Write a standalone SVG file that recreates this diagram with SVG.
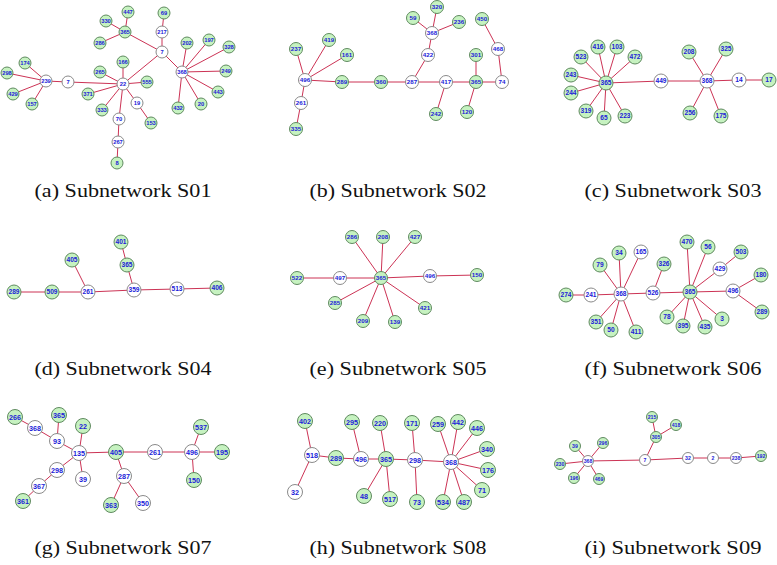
<svg xmlns="http://www.w3.org/2000/svg" width="777" height="565" viewBox="0 0 777 565">
<style>
.edges line{stroke:#cc3355;stroke-width:1}
circle.g{fill:#c6f2c0;stroke:#5f8a5f;stroke-width:1}
circle.w{fill:#ffffff;stroke:#8a8a8a;stroke-width:1}
.node text{font-family:"Liberation Sans",Arial,sans-serif;font-weight:bold;fill:#2020d8;text-anchor:middle}
.cap{font-family:"Liberation Serif","Times New Roman",serif;font-size:18px;fill:#111;text-anchor:middle}
#pa .node text{font-size:5.8px}
#pb .node text,#pe .node text{font-size:6.2px}
#pc .node text,#pd .node text,#pf .node text{font-size:6.6px}
#pg .node text,#ph .node text{font-size:7.2px}
#pi .node text{font-size:5.2px}
</style>
<rect width="777" height="565" fill="#ffffff"/>

<!-- (a) -->
<g id="pa">
<g id="pa-edges" class="edges">
<line x1="125" y1="32" x2="128" y2="12"/><line x1="125" y1="32" x2="106" y2="21"/><line x1="125" y1="32" x2="100" y2="43"/><line x1="125" y1="32" x2="162" y2="52"/>
<line x1="162" y1="32" x2="164" y2="13"/><line x1="162" y1="32" x2="162" y2="52"/>
<line x1="162" y1="52" x2="182" y2="72"/><line x1="162" y1="52" x2="123" y2="84"/>
<line x1="182" y1="72" x2="187" y2="43"/><line x1="182" y1="72" x2="209" y2="40"/><line x1="182" y1="72" x2="229" y2="47"/><line x1="182" y1="72" x2="226" y2="71"/><line x1="182" y1="72" x2="218" y2="92"/><line x1="182" y1="72" x2="201" y2="104"/><line x1="182" y1="72" x2="178" y2="108"/>
<line x1="46" y1="81" x2="25" y2="63"/><line x1="46" y1="81" x2="7" y2="73"/><line x1="46" y1="81" x2="13" y2="94"/><line x1="46" y1="81" x2="32" y2="104"/><line x1="46" y1="81" x2="68" y2="82"/>
<line x1="68" y1="82" x2="123" y2="84"/>
<line x1="123" y1="84" x2="123" y2="62"/><line x1="123" y1="84" x2="100" y2="72"/><line x1="123" y1="84" x2="147" y2="82"/><line x1="123" y1="84" x2="88" y2="94"/><line x1="123" y1="84" x2="102" y2="110"/><line x1="123" y1="84" x2="137" y2="103"/><line x1="123" y1="84" x2="119" y2="119"/>
<line x1="137" y1="103" x2="151" y2="123"/><line x1="119" y1="119" x2="118" y2="142"/><line x1="118" y1="142" x2="117" y2="163"/>
</g>
<g id="a-447" class="node"><circle class="g" cx="128" cy="12" r="6"/><text x="128" y="12" dy="0.35em">447</text></g>
<g id="a-330" class="node"><circle class="g" cx="106" cy="21" r="6"/><text x="106" y="21" dy="0.35em">330</text></g>
<g id="a-365" class="node"><circle class="g" cx="125" cy="32" r="6"/><text x="125" y="32" dy="0.35em">365</text></g>
<g id="a-286" class="node"><circle class="g" cx="100" cy="43" r="6"/><text x="100" y="43" dy="0.35em">286</text></g>
<g id="a-69" class="node"><circle class="g" cx="164" cy="13" r="6"/><text x="164" y="13" dy="0.35em">69</text></g>
<g id="a-217" class="node"><circle class="w" cx="162" cy="32" r="6"/><text x="162" y="32" dy="0.35em">217</text></g>
<g id="a-7top" class="node"><circle class="w" cx="162" cy="52" r="6"/><text x="162" y="52" dy="0.35em">7</text></g>
<g id="a-202" class="node"><circle class="g" cx="187" cy="43" r="6"/><text x="187" y="43" dy="0.35em">202</text></g>
<g id="a-197" class="node"><circle class="g" cx="209" cy="40" r="6"/><text x="209" y="40" dy="0.35em">197</text></g>
<g id="a-328" class="node"><circle class="g" cx="229" cy="47" r="6"/><text x="229" y="47" dy="0.35em">328</text></g>
<g id="a-368" class="node"><circle class="w" cx="182" cy="72" r="6"/><text x="182" y="72" dy="0.35em">368</text></g>
<g id="a-249" class="node"><circle class="g" cx="226" cy="71" r="6"/><text x="226" y="71" dy="0.35em">249</text></g>
<g id="a-443" class="node"><circle class="g" cx="218" cy="92" r="6"/><text x="218" y="92" dy="0.35em">443</text></g>
<g id="a-20" class="node"><circle class="g" cx="201" cy="104" r="6"/><text x="201" y="104" dy="0.35em">20</text></g>
<g id="a-432" class="node"><circle class="g" cx="178" cy="108" r="6"/><text x="178" y="108" dy="0.35em">432</text></g>
<g id="a-174" class="node"><circle class="g" cx="25" cy="63" r="6"/><text x="25" y="63" dy="0.35em">174</text></g>
<g id="a-298" class="node"><circle class="g" cx="7" cy="73" r="6"/><text x="7" y="73" dy="0.35em">298</text></g>
<g id="a-239" class="node"><circle class="w" cx="46" cy="81" r="6"/><text x="46" y="81" dy="0.35em">239</text></g>
<g id="a-7left" class="node"><circle class="w" cx="68" cy="82" r="6"/><text x="68" y="82" dy="0.35em">7</text></g>
<g id="a-429" class="node"><circle class="g" cx="13" cy="94" r="6"/><text x="13" y="94" dy="0.35em">429</text></g>
<g id="a-157" class="node"><circle class="g" cx="32" cy="104" r="6"/><text x="32" y="104" dy="0.35em">157</text></g>
<g id="a-166" class="node"><circle class="g" cx="123" cy="62" r="6"/><text x="123" y="62" dy="0.35em">166</text></g>
<g id="a-265" class="node"><circle class="g" cx="100" cy="72" r="6"/><text x="100" y="72" dy="0.35em">265</text></g>
<g id="a-22" class="node"><circle class="w" cx="123" cy="84" r="6"/><text x="123" y="84" dy="0.35em">22</text></g>
<g id="a-555" class="node"><circle class="g" cx="147" cy="82" r="6"/><text x="147" y="82" dy="0.35em">555</text></g>
<g id="a-371" class="node"><circle class="g" cx="88" cy="94" r="6"/><text x="88" y="94" dy="0.35em">371</text></g>
<g id="a-333" class="node"><circle class="g" cx="102" cy="110" r="6"/><text x="102" y="110" dy="0.35em">333</text></g>
<g id="a-19" class="node"><circle class="w" cx="137" cy="103" r="6"/><text x="137" y="103" dy="0.35em">19</text></g>
<g id="a-153" class="node"><circle class="g" cx="151" cy="123" r="6"/><text x="151" y="123" dy="0.35em">153</text></g>
<g id="a-70" class="node"><circle class="w" cx="119" cy="119" r="6"/><text x="119" y="119" dy="0.35em">70</text></g>
<g id="a-267" class="node"><circle class="w" cx="118" cy="142" r="6"/><text x="118" y="142" dy="0.35em">267</text></g>
<g id="a-8" class="node"><circle class="g" cx="117" cy="163" r="6"/><text x="117" y="163" dy="0.35em">8</text></g>
<text class="cap" x="123" y="197" textLength="177" lengthAdjust="spacingAndGlyphs">(a) Subnetwork S01</text>
</g>

<!-- (b) -->
<g id="pb">
<g id="pb-edges" class="edges">
<line x1="305" y1="80" x2="296" y2="49"/><line x1="305" y1="80" x2="329" y2="40"/><line x1="305" y1="80" x2="347" y2="55"/><line x1="305" y1="80" x2="342" y2="82"/><line x1="305" y1="80" x2="301" y2="103"/>
<line x1="301" y1="103" x2="296" y2="129"/><line x1="342" y1="82" x2="381" y2="82"/><line x1="381" y1="82" x2="412" y2="82"/>
<line x1="412" y1="82" x2="428" y2="55"/><line x1="428" y1="55" x2="432" y2="33"/>
<line x1="432" y1="33" x2="413" y2="18"/><line x1="432" y1="33" x2="437" y2="7"/><line x1="432" y1="33" x2="459" y2="22"/>
<line x1="412" y1="82" x2="446" y2="82"/><line x1="446" y1="82" x2="436" y2="114"/><line x1="446" y1="82" x2="476" y2="82"/>
<line x1="476" y1="82" x2="476" y2="55"/><line x1="476" y1="82" x2="467" y2="112"/><line x1="476" y1="82" x2="502" y2="82"/>
<line x1="502" y1="82" x2="498" y2="49"/><line x1="498" y1="49" x2="482" y2="19"/>
</g>
<g id="b-320" class="node"><circle class="g" cx="437" cy="7" r="6.5"/><text x="437" y="7" dy="0.35em">320</text></g>
<g id="b-59" class="node"><circle class="g" cx="413" cy="18" r="6.5"/><text x="413" y="18" dy="0.35em">59</text></g>
<g id="b-236" class="node"><circle class="g" cx="459" cy="22" r="6.5"/><text x="459" y="22" dy="0.35em">236</text></g>
<g id="b-368" class="node"><circle class="w" cx="432" cy="33" r="6.5"/><text x="432" y="33" dy="0.35em">368</text></g>
<g id="b-422" class="node"><circle class="w" cx="428" cy="55" r="6.5"/><text x="428" y="55" dy="0.35em">422</text></g>
<g id="b-450" class="node"><circle class="g" cx="482" cy="19" r="6.5"/><text x="482" y="19" dy="0.35em">450</text></g>
<g id="b-468" class="node"><circle class="w" cx="498" cy="49" r="6.5"/><text x="498" y="49" dy="0.35em">468</text></g>
<g id="b-237" class="node"><circle class="g" cx="296" cy="49" r="6.5"/><text x="296" y="49" dy="0.35em">237</text></g>
<g id="b-419" class="node"><circle class="g" cx="329" cy="40" r="6.5"/><text x="329" y="40" dy="0.35em">419</text></g>
<g id="b-161" class="node"><circle class="g" cx="347" cy="55" r="6.5"/><text x="347" y="55" dy="0.35em">161</text></g>
<g id="b-496" class="node"><circle class="w" cx="305" cy="80" r="6.5"/><text x="305" y="80" dy="0.35em">496</text></g>
<g id="b-289" class="node"><circle class="g" cx="342" cy="82" r="6.5"/><text x="342" y="82" dy="0.35em">289</text></g>
<g id="b-360" class="node"><circle class="g" cx="381" cy="82" r="6.5"/><text x="381" y="82" dy="0.35em">360</text></g>
<g id="b-287" class="node"><circle class="w" cx="412" cy="82" r="6.5"/><text x="412" y="82" dy="0.35em">287</text></g>
<g id="b-417" class="node"><circle class="w" cx="446" cy="82" r="6.5"/><text x="446" y="82" dy="0.35em">417</text></g>
<g id="b-301" class="node"><circle class="g" cx="476" cy="55" r="6.5"/><text x="476" y="55" dy="0.35em">301</text></g>
<g id="b-365" class="node"><circle class="g" cx="476" cy="82" r="6.5"/><text x="476" y="82" dy="0.35em">365</text></g>
<g id="b-74" class="node"><circle class="w" cx="502" cy="82" r="6.5"/><text x="502" y="82" dy="0.35em">74</text></g>
<g id="b-261" class="node"><circle class="w" cx="301" cy="103" r="6.5"/><text x="301" y="103" dy="0.35em">261</text></g>
<g id="b-335" class="node"><circle class="g" cx="296" cy="129" r="6.5"/><text x="296" y="129" dy="0.35em">335</text></g>
<g id="b-242" class="node"><circle class="g" cx="436" cy="114" r="6.5"/><text x="436" y="114" dy="0.35em">242</text></g>
<g id="b-120" class="node"><circle class="g" cx="467" cy="112" r="6.5"/><text x="467" y="112" dy="0.35em">120</text></g>
<text class="cap" x="398" y="197" textLength="177" lengthAdjust="spacingAndGlyphs">(b) Subnetwork S02</text>
</g>

<!-- (c) -->
<g id="pc">
<g id="pc-edges" class="edges">
<line x1="606" y1="83" x2="598" y2="47"/><line x1="606" y1="83" x2="617" y2="47"/><line x1="606" y1="83" x2="581" y2="57"/><line x1="606" y1="83" x2="635" y2="57"/><line x1="606" y1="83" x2="571" y2="75"/><line x1="606" y1="83" x2="571" y2="93"/><line x1="606" y1="83" x2="586" y2="111"/><line x1="606" y1="83" x2="604" y2="118"/><line x1="606" y1="83" x2="625" y2="116"/><line x1="606" y1="83" x2="661" y2="81"/>
<line x1="661" y1="81" x2="707" y2="81"/>
<line x1="707" y1="81" x2="689" y2="52"/><line x1="707" y1="81" x2="726" y2="49"/><line x1="707" y1="81" x2="739" y2="80"/><line x1="707" y1="81" x2="690" y2="113"/><line x1="707" y1="81" x2="721" y2="116"/>
<line x1="739" y1="80" x2="769" y2="80"/>
</g>
<g id="c-416" class="node"><circle class="g" cx="598" cy="47" r="7"/><text x="598" y="47" dy="0.35em">416</text></g>
<g id="c-103" class="node"><circle class="g" cx="617" cy="47" r="7"/><text x="617" y="47" dy="0.35em">103</text></g>
<g id="c-523" class="node"><circle class="g" cx="581" cy="57" r="7"/><text x="581" y="57" dy="0.35em">523</text></g>
<g id="c-472" class="node"><circle class="g" cx="635" cy="57" r="7"/><text x="635" y="57" dy="0.35em">472</text></g>
<g id="c-243" class="node"><circle class="g" cx="571" cy="75" r="7"/><text x="571" y="75" dy="0.35em">243</text></g>
<g id="c-365" class="node"><circle class="g" cx="606" cy="83" r="7"/><text x="606" y="83" dy="0.35em">365</text></g>
<g id="c-244" class="node"><circle class="g" cx="571" cy="93" r="7"/><text x="571" y="93" dy="0.35em">244</text></g>
<g id="c-319" class="node"><circle class="g" cx="586" cy="111" r="7"/><text x="586" y="111" dy="0.35em">319</text></g>
<g id="c-65" class="node"><circle class="g" cx="604" cy="118" r="7"/><text x="604" y="118" dy="0.35em">65</text></g>
<g id="c-223" class="node"><circle class="g" cx="625" cy="116" r="7"/><text x="625" y="116" dy="0.35em">223</text></g>
<g id="c-449" class="node"><circle class="w" cx="661" cy="81" r="7"/><text x="661" y="81" dy="0.35em">449</text></g>
<g id="c-208" class="node"><circle class="g" cx="689" cy="52" r="7"/><text x="689" y="52" dy="0.35em">208</text></g>
<g id="c-325" class="node"><circle class="g" cx="726" cy="49" r="7"/><text x="726" y="49" dy="0.35em">325</text></g>
<g id="c-368" class="node"><circle class="w" cx="707" cy="81" r="7"/><text x="707" y="81" dy="0.35em">368</text></g>
<g id="c-14" class="node"><circle class="w" cx="739" cy="80" r="7"/><text x="739" y="80" dy="0.35em">14</text></g>
<g id="c-17" class="node"><circle class="g" cx="769" cy="80" r="7"/><text x="769" y="80" dy="0.35em">17</text></g>
<g id="c-256" class="node"><circle class="g" cx="690" cy="113" r="7"/><text x="690" y="113" dy="0.35em">256</text></g>
<g id="c-175" class="node"><circle class="g" cx="721" cy="116" r="7"/><text x="721" y="116" dy="0.35em">175</text></g>
<text class="cap" x="673" y="197" textLength="177" lengthAdjust="spacingAndGlyphs">(c) Subnetwork S03</text>
</g>

<!-- (d) -->
<g id="pd">
<g id="pd-edges" class="edges">
<line x1="14" y1="292" x2="52" y2="292"/><line x1="52" y1="292" x2="88" y2="292"/><line x1="88" y1="292" x2="72" y2="260"/><line x1="88" y1="292" x2="134" y2="290"/>
<line x1="134" y1="290" x2="127" y2="265"/><line x1="127" y1="265" x2="121" y2="242"/><line x1="134" y1="290" x2="177" y2="289"/><line x1="177" y1="289" x2="217" y2="288"/>
</g>
<g id="d-401" class="node"><circle class="g" cx="121" cy="242" r="7"/><text x="121" y="242" dy="0.35em">401</text></g>
<g id="d-405" class="node"><circle class="g" cx="72" cy="260" r="7"/><text x="72" y="260" dy="0.35em">405</text></g>
<g id="d-365" class="node"><circle class="g" cx="127" cy="265" r="7"/><text x="127" y="265" dy="0.35em">365</text></g>
<g id="d-289" class="node"><circle class="g" cx="14" cy="292" r="7"/><text x="14" y="292" dy="0.35em">289</text></g>
<g id="d-509" class="node"><circle class="g" cx="52" cy="292" r="7"/><text x="52" y="292" dy="0.35em">509</text></g>
<g id="d-261" class="node"><circle class="w" cx="88" cy="292" r="7"/><text x="88" y="292" dy="0.35em">261</text></g>
<g id="d-359" class="node"><circle class="w" cx="134" cy="290" r="7"/><text x="134" y="290" dy="0.35em">359</text></g>
<g id="d-513" class="node"><circle class="w" cx="177" cy="289" r="7"/><text x="177" y="289" dy="0.35em">513</text></g>
<g id="d-406" class="node"><circle class="g" cx="217" cy="288" r="7"/><text x="217" y="288" dy="0.35em">406</text></g>
<text class="cap" x="123" y="375" textLength="177" lengthAdjust="spacingAndGlyphs">(d) Subnetwork S04</text>
</g>

<!-- (e) -->
<g id="pe">
<g id="pe-edges" class="edges">
<line x1="381" y1="278" x2="352" y2="237"/><line x1="381" y1="278" x2="383" y2="237"/><line x1="381" y1="278" x2="415" y2="237"/><line x1="381" y1="278" x2="340" y2="278"/><line x1="381" y1="278" x2="430" y2="276"/><line x1="381" y1="278" x2="335" y2="303"/><line x1="381" y1="278" x2="363" y2="321"/><line x1="381" y1="278" x2="395" y2="322"/><line x1="381" y1="278" x2="425" y2="308"/>
<line x1="340" y1="278" x2="297" y2="278"/><line x1="430" y1="276" x2="477" y2="275"/>
</g>
<g id="e-286" class="node"><circle class="g" cx="352" cy="237" r="6.5"/><text x="352" y="237" dy="0.35em">286</text></g>
<g id="e-208" class="node"><circle class="g" cx="383" cy="237" r="6.5"/><text x="383" y="237" dy="0.35em">208</text></g>
<g id="e-427" class="node"><circle class="g" cx="415" cy="237" r="6.5"/><text x="415" y="237" dy="0.35em">427</text></g>
<g id="e-522" class="node"><circle class="g" cx="297" cy="278" r="6.5"/><text x="297" y="278" dy="0.35em">522</text></g>
<g id="e-497" class="node"><circle class="w" cx="340" cy="278" r="6.5"/><text x="340" y="278" dy="0.35em">497</text></g>
<g id="e-365" class="node"><circle class="g" cx="381" cy="278" r="6.5"/><text x="381" y="278" dy="0.35em">365</text></g>
<g id="e-496" class="node"><circle class="w" cx="430" cy="276" r="6.5"/><text x="430" y="276" dy="0.35em">496</text></g>
<g id="e-150" class="node"><circle class="g" cx="477" cy="275" r="6.5"/><text x="477" y="275" dy="0.35em">150</text></g>
<g id="e-285" class="node"><circle class="g" cx="335" cy="303" r="6.5"/><text x="335" y="303" dy="0.35em">285</text></g>
<g id="e-209" class="node"><circle class="g" cx="363" cy="321" r="6.5"/><text x="363" y="321" dy="0.35em">209</text></g>
<g id="e-139" class="node"><circle class="g" cx="395" cy="322" r="6.5"/><text x="395" y="322" dy="0.35em">139</text></g>
<g id="e-421" class="node"><circle class="g" cx="425" cy="308" r="6.5"/><text x="425" y="308" dy="0.35em">421</text></g>
<text class="cap" x="398" y="375" textLength="177" lengthAdjust="spacingAndGlyphs">(e) Subnetwork S05</text>
</g>

<!-- (f) -->
<g id="pf">
<g id="pf-edges" class="edges">
<line x1="591" y1="295" x2="566" y2="295"/><line x1="591" y1="295" x2="621" y2="294"/>
<line x1="621" y1="294" x2="600" y2="265"/><line x1="621" y1="294" x2="619" y2="253"/><line x1="621" y1="294" x2="641" y2="252"/><line x1="621" y1="294" x2="596" y2="322"/><line x1="621" y1="294" x2="611" y2="330"/><line x1="621" y1="294" x2="636" y2="332"/><line x1="621" y1="294" x2="653" y2="293"/>
<line x1="653" y1="293" x2="664" y2="264"/><line x1="653" y1="293" x2="690" y2="292"/>
<line x1="690" y1="292" x2="687" y2="242"/><line x1="690" y1="292" x2="708" y2="247"/><line x1="690" y1="292" x2="720" y2="269"/><line x1="690" y1="292" x2="733" y2="291"/><line x1="690" y1="292" x2="667" y2="317"/><line x1="690" y1="292" x2="683" y2="326"/><line x1="690" y1="292" x2="705" y2="327"/><line x1="690" y1="292" x2="722" y2="319"/>
<line x1="720" y1="269" x2="741" y2="252"/><line x1="733" y1="291" x2="761" y2="275"/><line x1="733" y1="291" x2="762" y2="312"/>
</g>
<g id="f-470" class="node"><circle class="g" cx="687" cy="242" r="7"/><text x="687" y="242" dy="0.35em">470</text></g>
<g id="f-56" class="node"><circle class="g" cx="708" cy="247" r="7"/><text x="708" y="247" dy="0.35em">56</text></g>
<g id="f-34" class="node"><circle class="g" cx="619" cy="253" r="7"/><text x="619" y="253" dy="0.35em">34</text></g>
<g id="f-165" class="node"><circle class="w" cx="641" cy="252" r="7"/><text x="641" y="252" dy="0.35em">165</text></g>
<g id="f-503" class="node"><circle class="g" cx="741" cy="252" r="7"/><text x="741" y="252" dy="0.35em">503</text></g>
<g id="f-79" class="node"><circle class="g" cx="600" cy="265" r="7"/><text x="600" y="265" dy="0.35em">79</text></g>
<g id="f-326" class="node"><circle class="g" cx="664" cy="264" r="7"/><text x="664" y="264" dy="0.35em">326</text></g>
<g id="f-429" class="node"><circle class="w" cx="720" cy="269" r="7"/><text x="720" y="269" dy="0.35em">429</text></g>
<g id="f-180" class="node"><circle class="g" cx="761" cy="275" r="7"/><text x="761" y="275" dy="0.35em">180</text></g>
<g id="f-274" class="node"><circle class="g" cx="566" cy="295" r="7"/><text x="566" y="295" dy="0.35em">274</text></g>
<g id="f-241" class="node"><circle class="w" cx="591" cy="295" r="7"/><text x="591" y="295" dy="0.35em">241</text></g>
<g id="f-368" class="node"><circle class="w" cx="621" cy="294" r="7"/><text x="621" y="294" dy="0.35em">368</text></g>
<g id="f-526" class="node"><circle class="w" cx="653" cy="293" r="7"/><text x="653" y="293" dy="0.35em">526</text></g>
<g id="f-365" class="node"><circle class="g" cx="690" cy="292" r="7"/><text x="690" y="292" dy="0.35em">365</text></g>
<g id="f-496" class="node"><circle class="w" cx="733" cy="291" r="7"/><text x="733" y="291" dy="0.35em">496</text></g>
<g id="f-289" class="node"><circle class="g" cx="762" cy="312" r="7"/><text x="762" y="312" dy="0.35em">289</text></g>
<g id="f-78" class="node"><circle class="g" cx="667" cy="317" r="7"/><text x="667" y="317" dy="0.35em">78</text></g>
<g id="f-3" class="node"><circle class="g" cx="722" cy="319" r="7"/><text x="722" y="319" dy="0.35em">3</text></g>
<g id="f-351" class="node"><circle class="g" cx="596" cy="322" r="7"/><text x="596" y="322" dy="0.35em">351</text></g>
<g id="f-395" class="node"><circle class="g" cx="683" cy="326" r="7"/><text x="683" y="326" dy="0.35em">395</text></g>
<g id="f-435" class="node"><circle class="g" cx="705" cy="327" r="7"/><text x="705" y="327" dy="0.35em">435</text></g>
<g id="f-50" class="node"><circle class="g" cx="611" cy="330" r="7"/><text x="611" y="330" dy="0.35em">50</text></g>
<g id="f-411" class="node"><circle class="g" cx="636" cy="332" r="7"/><text x="636" y="332" dy="0.35em">411</text></g>
<text class="cap" x="673" y="375" textLength="177" lengthAdjust="spacingAndGlyphs">(f) Subnetwork S06</text>
</g>

<!-- (g) -->
<g id="pg">
<g id="pg-edges" class="edges">
<line x1="15" y1="417" x2="35" y2="428"/><line x1="35" y1="428" x2="57" y2="441"/><line x1="57" y1="441" x2="59" y2="415"/><line x1="57" y1="441" x2="79" y2="453"/>
<line x1="79" y1="453" x2="83" y2="426"/><line x1="79" y1="453" x2="116" y2="452"/><line x1="79" y1="453" x2="57" y2="470"/><line x1="79" y1="453" x2="83" y2="479"/>
<line x1="57" y1="470" x2="39" y2="486"/><line x1="39" y1="486" x2="23" y2="501"/>
<line x1="116" y1="452" x2="155" y2="452"/><line x1="116" y1="452" x2="124" y2="476"/><line x1="124" y1="476" x2="111" y2="505"/><line x1="124" y1="476" x2="143" y2="503"/>
<line x1="155" y1="452" x2="192" y2="452"/><line x1="192" y1="452" x2="201" y2="427"/><line x1="192" y1="452" x2="222" y2="452"/><line x1="192" y1="452" x2="194" y2="480"/>
</g>
<g id="g-266" class="node"><circle class="g" cx="15" cy="417" r="7.5"/><text x="15" y="417" dy="0.35em">266</text></g>
<g id="g-365" class="node"><circle class="g" cx="59" cy="415" r="7.5"/><text x="59" y="415" dy="0.35em">365</text></g>
<g id="g-368" class="node"><circle class="w" cx="35" cy="428" r="7.5"/><text x="35" y="428" dy="0.35em">368</text></g>
<g id="g-22" class="node"><circle class="g" cx="83" cy="426" r="7.5"/><text x="83" y="426" dy="0.35em">22</text></g>
<g id="g-93" class="node"><circle class="w" cx="57" cy="441" r="7.5"/><text x="57" y="441" dy="0.35em">93</text></g>
<g id="g-537" class="node"><circle class="g" cx="201" cy="427" r="7.5"/><text x="201" y="427" dy="0.35em">537</text></g>
<g id="g-135" class="node"><circle class="w" cx="79" cy="453" r="7.5"/><text x="79" y="453" dy="0.35em">135</text></g>
<g id="g-405" class="node"><circle class="g" cx="116" cy="452" r="7.5"/><text x="116" y="452" dy="0.35em">405</text></g>
<g id="g-261" class="node"><circle class="w" cx="155" cy="452" r="7.5"/><text x="155" y="452" dy="0.35em">261</text></g>
<g id="g-496" class="node"><circle class="w" cx="192" cy="452" r="7.5"/><text x="192" y="452" dy="0.35em">496</text></g>
<g id="g-195" class="node"><circle class="g" cx="222" cy="452" r="7.5"/><text x="222" y="452" dy="0.35em">195</text></g>
<g id="g-298" class="node"><circle class="w" cx="57" cy="470" r="7.5"/><text x="57" y="470" dy="0.35em">298</text></g>
<g id="g-39" class="node"><circle class="w" cx="83" cy="479" r="7.5"/><text x="83" y="479" dy="0.35em">39</text></g>
<g id="g-287" class="node"><circle class="w" cx="124" cy="476" r="7.5"/><text x="124" y="476" dy="0.35em">287</text></g>
<g id="g-150" class="node"><circle class="g" cx="194" cy="480" r="7.5"/><text x="194" y="480" dy="0.35em">150</text></g>
<g id="g-367" class="node"><circle class="w" cx="39" cy="486" r="7.5"/><text x="39" y="486" dy="0.35em">367</text></g>
<g id="g-361" class="node"><circle class="g" cx="23" cy="501" r="7.5"/><text x="23" y="501" dy="0.35em">361</text></g>
<g id="g-363" class="node"><circle class="g" cx="111" cy="505" r="7.5"/><text x="111" y="505" dy="0.35em">363</text></g>
<g id="g-350" class="node"><circle class="w" cx="143" cy="503" r="7.5"/><text x="143" y="503" dy="0.35em">350</text></g>
<text class="cap" x="123" y="554" textLength="177" lengthAdjust="spacingAndGlyphs">(g) Subnetwork S07</text>
</g>

<!-- (h) -->
<g id="ph">
<g id="ph-edges" class="edges">
<line x1="312" y1="455" x2="305" y2="421"/><line x1="312" y1="455" x2="295" y2="492"/><line x1="312" y1="455" x2="336" y2="458"/><line x1="336" y1="458" x2="361" y2="459"/>
<line x1="361" y1="459" x2="352" y2="422"/><line x1="361" y1="459" x2="386" y2="459"/>
<line x1="386" y1="459" x2="380" y2="423"/><line x1="386" y1="459" x2="364" y2="496"/><line x1="386" y1="459" x2="390" y2="499"/><line x1="386" y1="459" x2="415" y2="460"/>
<line x1="415" y1="460" x2="412" y2="423"/><line x1="415" y1="460" x2="417" y2="502"/><line x1="415" y1="460" x2="451" y2="462"/>
<line x1="451" y1="462" x2="438" y2="424"/><line x1="451" y1="462" x2="458" y2="422"/><line x1="451" y1="462" x2="477" y2="428"/><line x1="451" y1="462" x2="487" y2="449"/><line x1="451" y1="462" x2="488" y2="470"/><line x1="451" y1="462" x2="482" y2="490"/><line x1="451" y1="462" x2="464" y2="502"/><line x1="451" y1="462" x2="443" y2="502"/>
</g>
<g id="h-402" class="node"><circle class="g" cx="305" cy="421" r="7.5"/><text x="305" y="421" dy="0.35em">402</text></g>
<g id="h-295" class="node"><circle class="g" cx="352" cy="422" r="7.5"/><text x="352" y="422" dy="0.35em">295</text></g>
<g id="h-220" class="node"><circle class="g" cx="380" cy="423" r="7.5"/><text x="380" y="423" dy="0.35em">220</text></g>
<g id="h-171" class="node"><circle class="g" cx="412" cy="423" r="7.5"/><text x="412" y="423" dy="0.35em">171</text></g>
<g id="h-259" class="node"><circle class="g" cx="438" cy="424" r="7.5"/><text x="438" y="424" dy="0.35em">259</text></g>
<g id="h-442" class="node"><circle class="g" cx="458" cy="422" r="7.5"/><text x="458" y="422" dy="0.35em">442</text></g>
<g id="h-446" class="node"><circle class="g" cx="477" cy="428" r="7.5"/><text x="477" y="428" dy="0.35em">446</text></g>
<g id="h-340" class="node"><circle class="g" cx="487" cy="449" r="7.5"/><text x="487" y="449" dy="0.35em">340</text></g>
<g id="h-518" class="node"><circle class="w" cx="312" cy="455" r="7.5"/><text x="312" y="455" dy="0.35em">518</text></g>
<g id="h-289" class="node"><circle class="g" cx="336" cy="458" r="7.5"/><text x="336" y="458" dy="0.35em">289</text></g>
<g id="h-496" class="node"><circle class="w" cx="361" cy="459" r="7.5"/><text x="361" y="459" dy="0.35em">496</text></g>
<g id="h-365" class="node"><circle class="g" cx="386" cy="459" r="7.5"/><text x="386" y="459" dy="0.35em">365</text></g>
<g id="h-298" class="node"><circle class="w" cx="415" cy="460" r="7.5"/><text x="415" y="460" dy="0.35em">298</text></g>
<g id="h-368" class="node"><circle class="w" cx="451" cy="462" r="7.5"/><text x="451" y="462" dy="0.35em">368</text></g>
<g id="h-176" class="node"><circle class="g" cx="488" cy="470" r="7.5"/><text x="488" y="470" dy="0.35em">176</text></g>
<g id="h-71" class="node"><circle class="g" cx="482" cy="490" r="7.5"/><text x="482" y="490" dy="0.35em">71</text></g>
<g id="h-32" class="node"><circle class="w" cx="295" cy="492" r="7.5"/><text x="295" y="492" dy="0.35em">32</text></g>
<g id="h-48" class="node"><circle class="g" cx="364" cy="496" r="7.5"/><text x="364" y="496" dy="0.35em">48</text></g>
<g id="h-517" class="node"><circle class="g" cx="390" cy="499" r="7.5"/><text x="390" y="499" dy="0.35em">517</text></g>
<g id="h-73" class="node"><circle class="g" cx="417" cy="502" r="7.5"/><text x="417" y="502" dy="0.35em">73</text></g>
<g id="h-534" class="node"><circle class="g" cx="443" cy="502" r="7.5"/><text x="443" y="502" dy="0.35em">534</text></g>
<g id="h-487" class="node"><circle class="g" cx="464" cy="502" r="7.5"/><text x="464" y="502" dy="0.35em">487</text></g>
<text class="cap" x="398" y="554" textLength="177" lengthAdjust="spacingAndGlyphs">(h) Subnetwork S08</text>
</g>

<!-- (i) -->
<g id="pi">
<g id="pi-edges" class="edges">
<line x1="588" y1="461" x2="575" y2="446"/><line x1="588" y1="461" x2="603" y2="443"/><line x1="588" y1="461" x2="560" y2="464"/><line x1="588" y1="461" x2="574" y2="478"/><line x1="588" y1="461" x2="599" y2="479"/><line x1="588" y1="461" x2="645" y2="460"/>
<line x1="645" y1="460" x2="656" y2="437"/><line x1="656" y1="437" x2="652" y2="417"/><line x1="656" y1="437" x2="676" y2="425"/>
<line x1="645" y1="460" x2="688" y2="458"/><line x1="688" y1="458" x2="713" y2="458"/><line x1="713" y1="458" x2="736" y2="458"/><line x1="736" y1="458" x2="761" y2="456"/>
</g>
<g id="i-215" class="node"><circle class="g" cx="652" cy="417" r="5.5"/><text x="652" y="417" dy="0.35em">215</text></g>
<g id="i-418" class="node"><circle class="g" cx="676" cy="425" r="5.5"/><text x="676" y="425" dy="0.35em">418</text></g>
<g id="i-305" class="node"><circle class="g" cx="656" cy="437" r="5.5"/><text x="656" y="437" dy="0.35em">305</text></g>
<g id="i-39" class="node"><circle class="g" cx="575" cy="446" r="5.5"/><text x="575" y="446" dy="0.35em">39</text></g>
<g id="i-296" class="node"><circle class="g" cx="603" cy="443" r="5.5"/><text x="603" y="443" dy="0.35em">296</text></g>
<g id="i-230" class="node"><circle class="g" cx="560" cy="464" r="5.5"/><text x="560" y="464" dy="0.35em">230</text></g>
<g id="i-368" class="node"><circle class="w" cx="588" cy="461" r="5.5"/><text x="588" y="461" dy="0.35em">368</text></g>
<g id="i-7" class="node"><circle class="w" cx="645" cy="460" r="5.5"/><text x="645" y="460" dy="0.35em">7</text></g>
<g id="i-32" class="node"><circle class="w" cx="688" cy="458" r="5.5"/><text x="688" y="458" dy="0.35em">32</text></g>
<g id="i-2" class="node"><circle class="w" cx="713" cy="458" r="5.5"/><text x="713" y="458" dy="0.35em">2</text></g>
<g id="i-238" class="node"><circle class="w" cx="736" cy="458" r="5.5"/><text x="736" y="458" dy="0.35em">238</text></g>
<g id="i-192" class="node"><circle class="g" cx="761" cy="456" r="5.5"/><text x="761" y="456" dy="0.35em">192</text></g>
<g id="i-196" class="node"><circle class="g" cx="574" cy="478" r="5.5"/><text x="574" y="478" dy="0.35em">196</text></g>
<g id="i-469" class="node"><circle class="g" cx="599" cy="479" r="5.5"/><text x="599" y="479" dy="0.35em">469</text></g>
<text class="cap" x="673" y="554" textLength="177" lengthAdjust="spacingAndGlyphs">(i) Subnetwork S09</text>
</g>
</svg>
